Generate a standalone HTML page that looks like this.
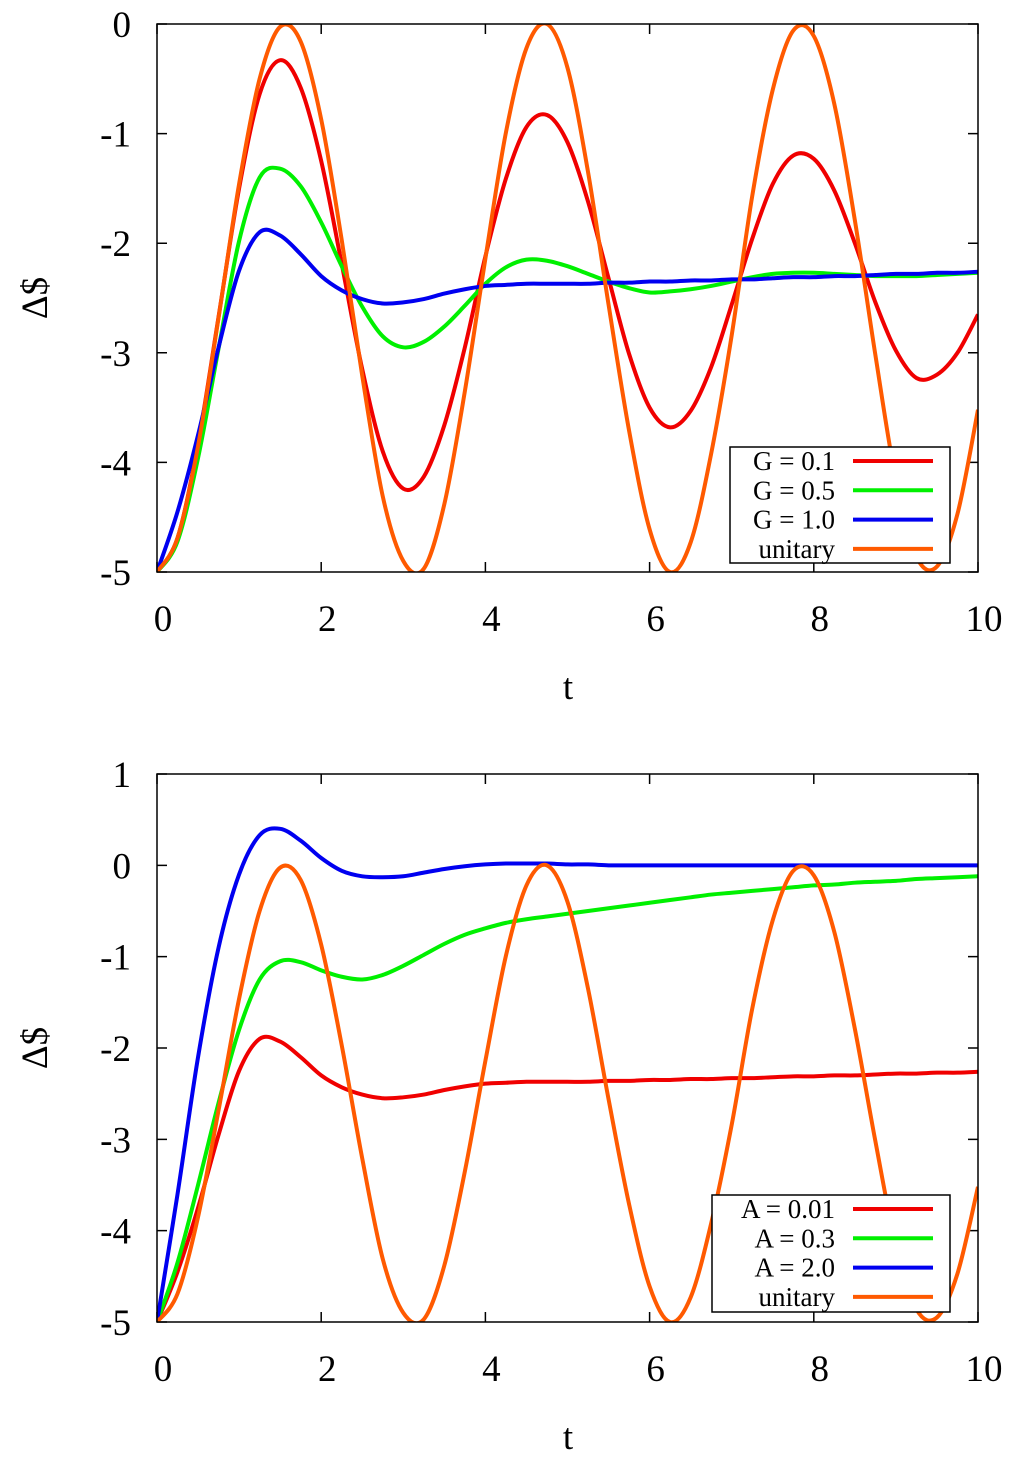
<!DOCTYPE html>
<html><head><meta charset="utf-8"><style>
html,body{margin:0;padding:0;background:#fff;}
svg{display:block;font-family:"Liberation Serif",serif;}
</style></head><body>
<svg id="chart" width="1024" height="1462" viewBox="0 0 1024 1462"></svg>
<script>
const tVals = [0,0.25,0.5,0.75,1,1.25,1.5,1.75,2,2.25,2.5,2.75,3,3.25,3.5,3.75,4,4.25,4.5,4.75,5,5.25,5.5,5.75,6,6.25,6.5,6.75,7,7.25,7.5,7.75,8,8.25,8.5,8.75,9,9.25,9.5,9.75,10];
const unitary = [-5,-4.69,-3.85,-2.68,-1.46,-0.50,-0.025,-0.16,-0.87,-1.97,-3.21,-4.31,-4.90,-4.97,-4.38,-3.35,-2.14,-0.99,-0.22,0,-0.40,-1.35,-2.56,-3.71,-4.61,-5.0,-4.73,-3.92,-2.84,-1.57,-0.60,-0.06,-0.11,-0.73,-1.79,-3.02,-4.16,-4.86,-4.95,-4.47,-3.52];
const g01 = [-5,-4.69,-3.83,-2.67,-1.50,-0.64,-0.33,-0.58,-1.25,-2.19,-3.15,-3.90,-4.24,-4.13,-3.66,-2.95,-2.12,-1.41,-0.94,-0.83,-1.08,-1.62,-2.32,-3.01,-3.50,-3.68,-3.53,-3.13,-2.56,-1.96,-1.46,-1.20,-1.23,-1.52,-2.00,-2.54,-2.98,-3.23,-3.20,-3.00,-2.65];
const g05 = [-5,-4.72,-3.96,-2.96,-1.98,-1.40,-1.32,-1.48,-1.81,-2.21,-2.58,-2.85,-2.95,-2.90,-2.76,-2.57,-2.37,-2.22,-2.15,-2.16,-2.21,-2.28,-2.35,-2.41,-2.45,-2.44,-2.42,-2.39,-2.35,-2.31,-2.28,-2.27,-2.27,-2.28,-2.29,-2.30,-2.30,-2.30,-2.29,-2.28,-2.27];
const g10 = [-5,-4.45,-3.75,-2.95,-2.25,-1.90,-1.93,-2.10,-2.30,-2.43,-2.51,-2.55,-2.54,-2.51,-2.46,-2.42,-2.39,-2.38,-2.37,-2.37,-2.37,-2.37,-2.36,-2.36,-2.35,-2.35,-2.34,-2.34,-2.33,-2.33,-2.32,-2.31,-2.31,-2.30,-2.30,-2.29,-2.28,-2.28,-2.27,-2.27,-2.26];
const a001 = [-5,-4.45,-3.75,-2.95,-2.25,-1.90,-1.93,-2.10,-2.30,-2.43,-2.51,-2.55,-2.54,-2.51,-2.46,-2.42,-2.39,-2.38,-2.37,-2.37,-2.37,-2.37,-2.36,-2.36,-2.35,-2.35,-2.34,-2.34,-2.33,-2.33,-2.32,-2.31,-2.31,-2.30,-2.30,-2.29,-2.28,-2.28,-2.27,-2.27,-2.26];
const a03 = [-5,-4.35,-3.5,-2.6,-1.8,-1.25,-1.05,-1.06,-1.15,-1.22,-1.25,-1.2,-1.10,-0.98,-0.86,-0.76,-0.69,-0.63,-0.59,-0.56,-0.53,-0.50,-0.47,-0.44,-0.41,-0.38,-0.35,-0.32,-0.30,-0.28,-0.26,-0.24,-0.22,-0.21,-0.19,-0.18,-0.17,-0.15,-0.14,-0.13,-0.12];
const a20 = [-5,-3.6,-2.1,-0.9,-0.1,0.33,0.40,0.27,0.08,-0.06,-0.12,-0.13,-0.12,-0.08,-0.04,-0.01,0.01,0.02,0.02,0.02,0.01,0.01,0,0,0,0,0,0,0,0,0,0,0,0,0,0,0,0,0,0,0];
const xTicks = [0,2,4,6,8,10];
const yTicksTop = [0,-1,-2,-3,-4,-5];
const yTicksBot = [1,0,-1,-2,-3,-4,-5];
const topLabels = ["G = 0.1","G = 0.5","G = 1.0","unitary"];
const botLabels = ["A = 0.01","A = 0.3","A = 2.0","unitary"];

const NS="http://www.w3.org/2000/svg";
const svg=document.getElementById('chart');
function el(tag,attrs,parent){const e=document.createElementNS(NS,tag);for(const k in attrs)e.setAttribute(k,attrs[k]);(parent||svg).appendChild(e);return e;}

function panel(p){
  const g=el('g',{});
  
  
  const X=t=>p.x0+(t-0)/(10-0)*(p.x1-p.x0);
  const Y=v=>p.y1+(v-p.ymin)/(p.ymax-p.ymin)*(p.y0-p.y1);
  xTicks.forEach(t=>{
    const x=X(t);
    const tk=el('path',{d:`M${x},${p.y1}v-10M${x},${p.y0}v10`,stroke:'#000','stroke-width':1.5},g);
    
    
    const tx=el('text',{x:x+6,y:p.y1+59,'font-size':37,'text-anchor':'middle'},g);
    tx.textContent=t;
    
    
  });
  p.yticks.forEach(v=>{
    const y=Y(v);
    const tk=el('path',{d:`M${p.x0},${y}h10M${p.x1},${y}h-10`,stroke:'#000','stroke-width':1.5},g);
    
    
    const tx=el('text',{x:131,y:y+13,'font-size':37,'text-anchor':'end'},g);
    tx.textContent=v;
    
    
  });
  const xt=el('text',{x:568,y:p.y1+127,'font-size':37,'text-anchor':'middle'},g);
  xt.textContent='t';
  
  
  const yt=el('text',{x:0,y:0,'font-size':37,'text-anchor':'middle',transform:`translate(47,${(p.y0+p.y1)/2}) rotate(-90)`},g);
  yt.textContent='Δ$';
  
  
  const cid='clip'+p.name;
  const cp=el('clipPath',{id:cid},g);
  el('rect',{x:p.x0,y:p.y0,width:p.x1-p.x0,height:p.y1-p.y0},cp);
  const cg=el('g',{'clip-path':`url(#${cid})`},g);
  p.series.forEach(s=>{
    const pts=tVals.map((t,i)=>[X(t),Y(s.data[i])]);
    let d=`M${pts[0][0]},${pts[0][1]}`;
    for(let i=0;i<pts.length-1;i++){
      const p0=pts[Math.max(i-1,0)],p1=pts[i],p2=pts[i+1],p3=pts[Math.min(i+2,pts.length-1)];
      const c1=[p1[0]+(p2[0]-p0[0])/6,p1[1]+(p2[1]-p0[1])/6];
      const c2=[p2[0]-(p3[0]-p1[0])/6,p2[1]-(p3[1]-p1[1])/6];
      d+=`C${c1[0]},${c1[1]} ${c2[0]},${c2[1]} ${p2[0]},${p2[1]}`;
    }
    const path=el('path',{d,fill:'none',stroke:s.color,'stroke-width':4,'stroke-linejoin':'round'},cg);
    
    
  });
  const L=p.legend;
  const lg=el('g',{},g);
  
  
  el('rect',{x:L.x,y:L.y,width:L.w,height:L.h,fill:'#fff',stroke:'#000','stroke-width':1.5},lg);
  p.series.forEach((s,i)=>{
    const y=L.y+14+i*29.3;
    const tx=el('text',{x:835,y:y+9,'font-size':27,'text-anchor':'end'},lg);
    tx.textContent=p.labels[i];
    
    
    const ln=el('path',{d:`M853,${y}H933`,stroke:s.color,'stroke-width':4},lg);
    
    
  });
  const fr=el('rect',{x:p.x0,y:p.y0,width:p.x1-p.x0,height:p.y1-p.y0,fill:'none',stroke:'#000','stroke-width':1.5},g);
  
  
}
panel({name:'top-panel',x0:157,x1:978,y0:24,y1:572,ymin:-5,ymax:0,yticks:yTicksTop,labels:topLabels,
  legend:{x:730,y:447,w:220,h:116},
  series:[{id:'line-g-0.1',data:g01,color:'#f00000'},{id:'line-g-0.5',data:g05,color:'#00f000'},{id:'line-g-1.0',data:g10,color:'#0000f0'},{id:'line-unitary',data:unitary,color:'#ff5a00'}]});
panel({name:'bottom-panel',x0:157,x1:978,y0:774,y1:1322,ymin:-5,ymax:1,yticks:yTicksBot,labels:botLabels,
  legend:{x:712,y:1195,w:238,h:117},
  series:[{id:'line-a-0.01',data:a001,color:'#f00000'},{id:'line-a-0.3',data:a03,color:'#00f000'},{id:'line-a-2.0',data:a20,color:'#0000f0'},{id:'line-unitary',data:unitary,color:'#ff5a00'}]});
</script>
</body></html>
